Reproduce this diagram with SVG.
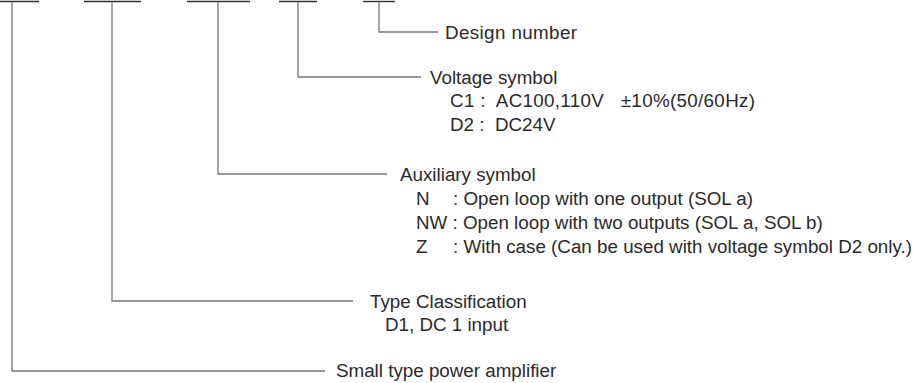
<svg xmlns="http://www.w3.org/2000/svg" width="914" height="383" viewBox="0 0 914 383">
<style>
text { font-family: "Liberation Sans", Arial, sans-serif; font-size: 18.8px; fill: #2a2a2a; white-space: pre; }
.bar { stroke: #333; stroke-width: 1.4; fill: none; }
.conn { stroke: #777; stroke-width: 1.3; fill: none; }
</style>
<rect width="914" height="383" fill="#fff"/>
<g id="code-bars">
<line class="bar" x1="0" y1="1.5" x2="39" y2="1.5"/>
<line class="bar" x1="84" y1="1.5" x2="141" y2="1.5"/>
<line class="bar" x1="187" y1="1.5" x2="250" y2="1.5"/>
<line class="bar" x1="279" y1="1.5" x2="317" y2="1.5"/>
<line class="bar" x1="363" y1="1.5" x2="395" y2="1.5"/>
</g>
<g id="connectors">
<polyline class="conn" points="379,2 379,32 438,32"/>
<polyline class="conn" points="298,2 298,77 421,77"/>
<polyline class="conn" points="218,2 218,174 387,174"/>
<polyline class="conn" points="112,2 112,301 353,301"/>
<polyline class="conn" points="12,2 12,371 325,371"/>
</g>
<g id="design-number">
<text x="445" y="39" textLength="132" lengthAdjust="spacing">Design number</text>
</g>
<g id="voltage-symbol">
<text x="430" y="84">Voltage symbol</text>
<text x="450" y="107" textLength="305" lengthAdjust="spacing">C1 :  AC100,110V   ±10%(50/60Hz)</text>
<text x="450" y="131">D2 :  DC24V</text>
</g>
<g id="auxiliary-symbol">
<text x="400" y="181">Auxiliary symbol</text>
<text x="416" y="205">N</text>
<text x="453" y="205">: Open loop with one output (SOL a)</text>
<text x="416" y="229">NW : Open loop with two outputs (SOL a, SOL b)</text>
<text x="416" y="253">Z</text>
<text x="453" y="253">: With case (Can be used with voltage symbol D2 only.)</text>
</g>
<g id="type-classification">
<text x="370" y="308">Type Classification</text>
<text x="385" y="331">D1, DC 1 input</text>
</g>
<g id="small-type">
<text x="336" y="377">Small type power amplifier</text>
</g>
</svg>
